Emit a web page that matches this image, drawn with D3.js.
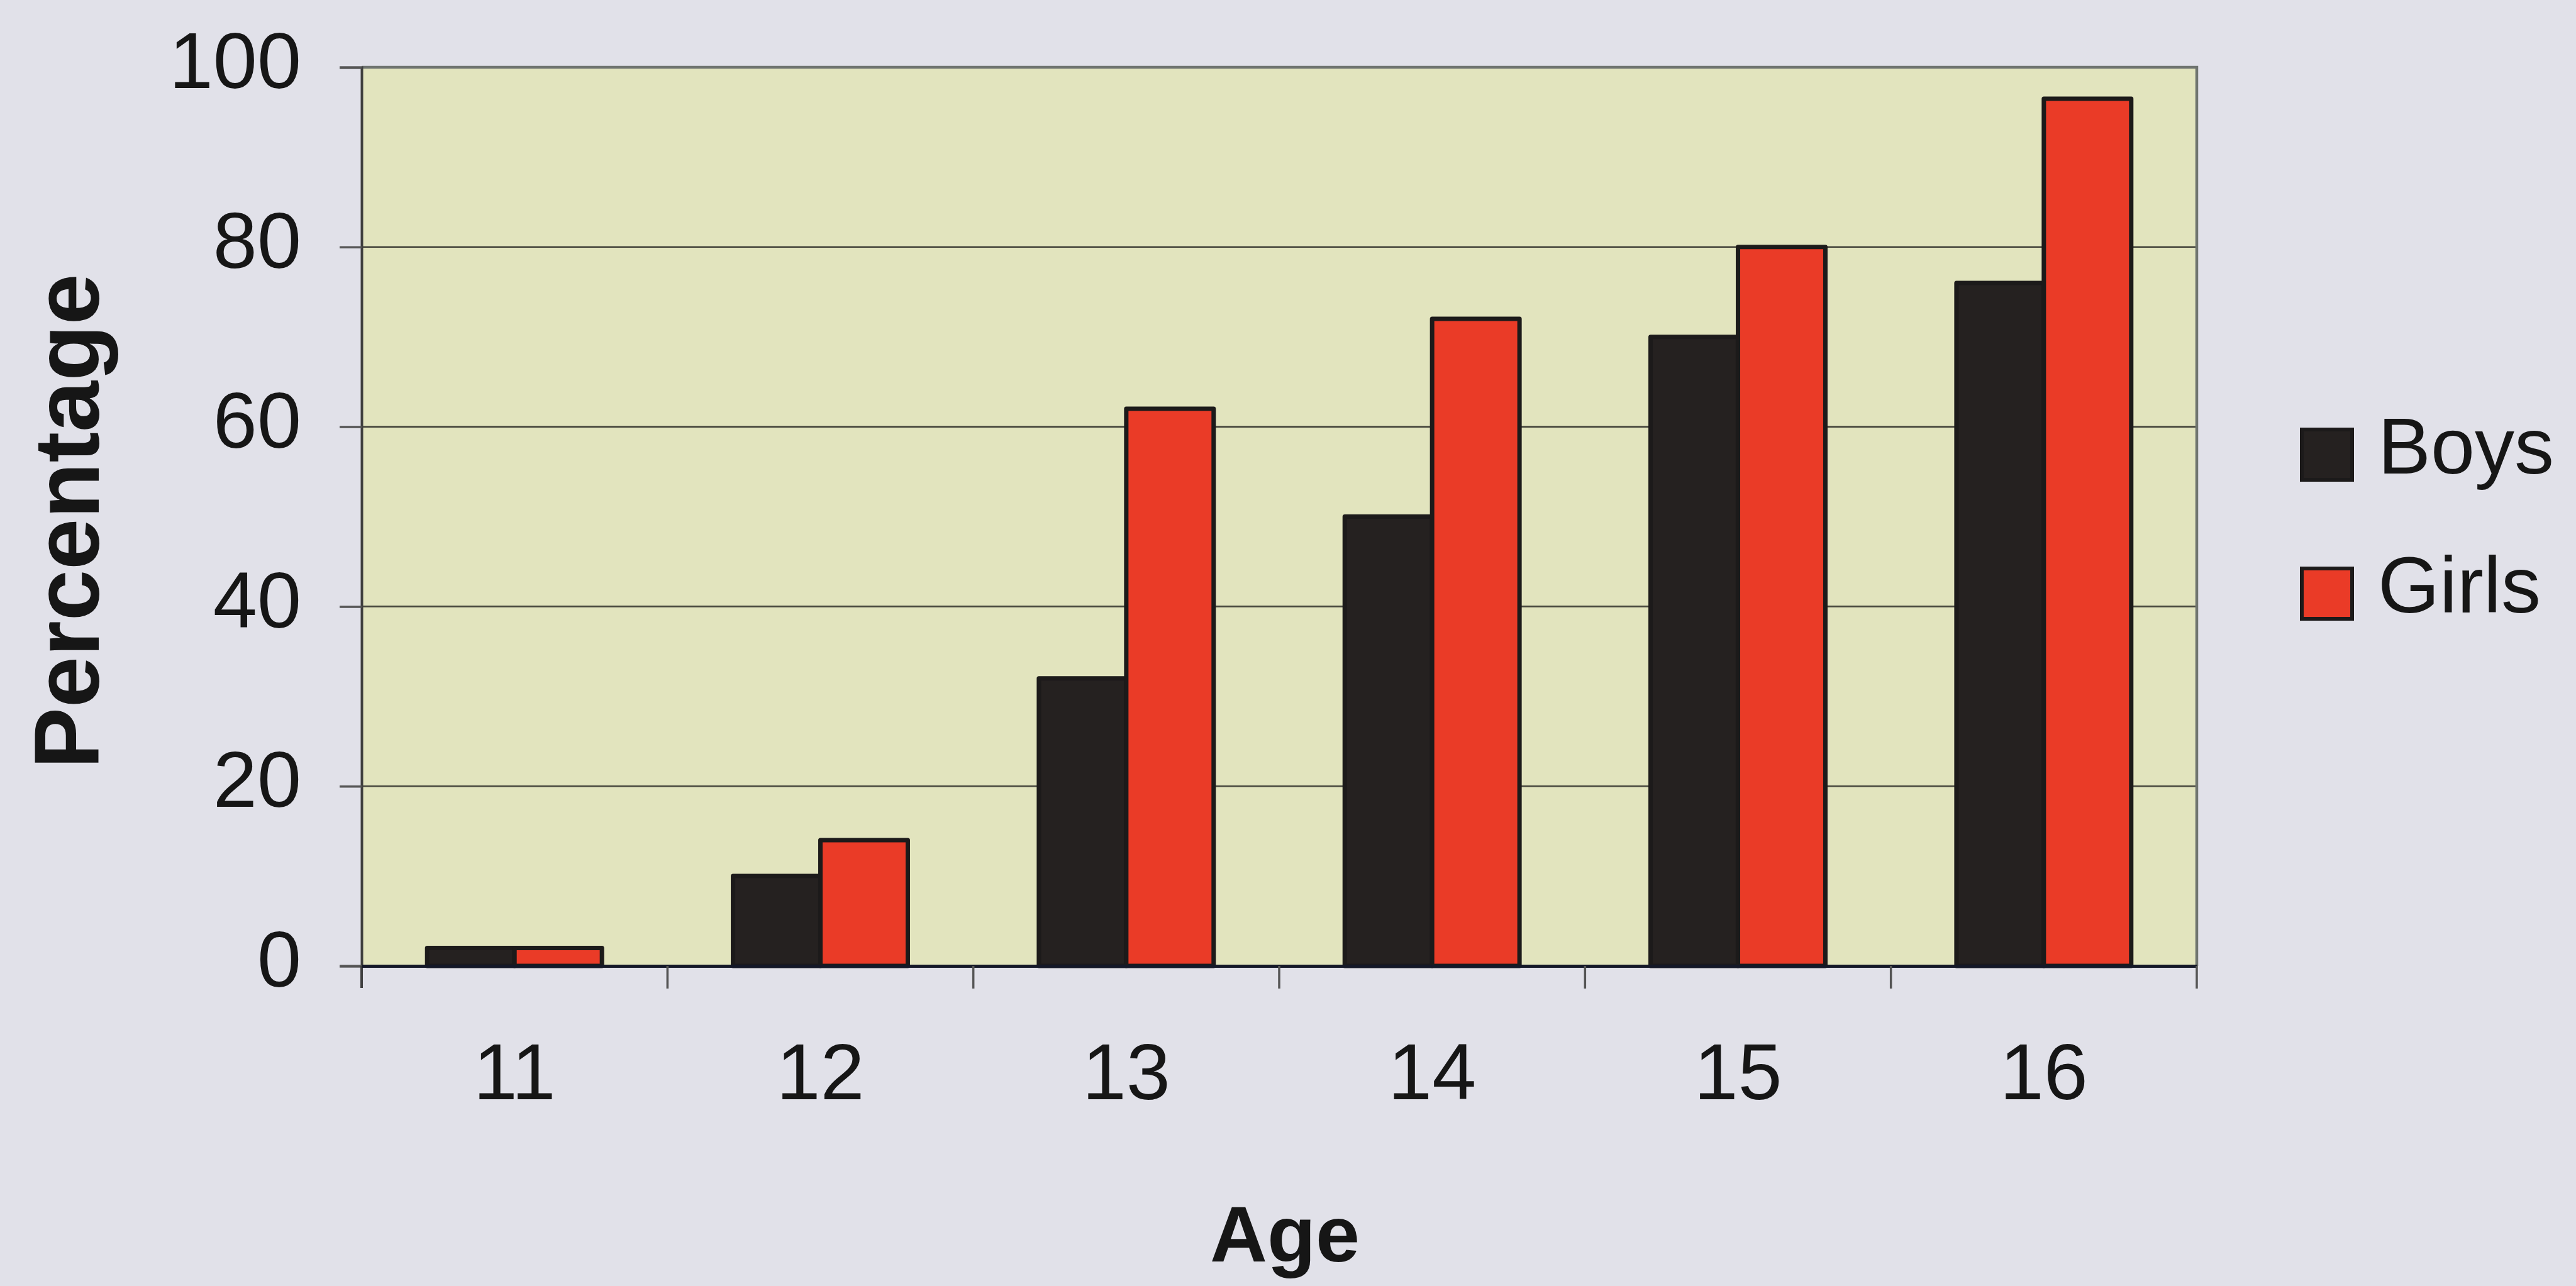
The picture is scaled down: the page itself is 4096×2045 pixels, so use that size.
<!DOCTYPE html>
<html>
<head>
<meta charset="utf-8">
<script src="https://cdn.jsdelivr.net/npm/d3@7/dist/d3.min.js"></script>
<style>
  html, body { margin: 0; padding: 0; background: #e1e1e9; }
  svg { display: block; }
  text { font-family: "Liberation Sans", Arial, sans-serif; fill: #161616; }
</style>
</head>
<body>
<svg id="chart" width="4096" height="2045"></svg>
<script>
// Share of pupils by age, boys vs girls
const ages = ["11", "12", "13", "14", "15", "16"];
const seriesNames = ["Boys", "Girls"];
const boys = [2, 10, 32, 50, 70, 76];
const girls = [2, 14, 62, 72, 80, 96.5];
const yTicks = [0, 20, 40, 60, 80, 100];
const seriesColors = ["#252120", "#ea3b27"];

const svg = d3.select("#chart");

const plot = { left: 575, right: 3493, top: 107, bottom: 1536 };

const x = d3.scaleBand().domain(ages).range([plot.left, plot.right]).padding(0);
const inner = d3.scaleBand().domain(seriesNames).range([0, x.bandwidth()])
  .paddingInner(0).paddingOuter(0.75);
const y = d3.scaleLinear().domain([0, 100]).range([plot.bottom, plot.top]);
const color = d3.scaleOrdinal().domain(seriesNames).range(seriesColors);

// plot area background
svg.append("rect")
  .attr("x", plot.left).attr("y", plot.top)
  .attr("width", plot.right - plot.left).attr("height", plot.bottom - plot.top)
  .attr("fill", "#e2e4be");

// horizontal gridlines
svg.append("g").selectAll("line")
  .data(yTicks.filter(v => v > 0 && v < 100))
  .join("line")
  .attr("x1", plot.left).attr("x2", plot.right)
  .attr("y1", d => y(d)).attr("y2", d => y(d))
  .attr("stroke", "#46463c").attr("stroke-width", 2.6);

// plot border (top and right)
svg.append("path")
  .attr("d", `M${plot.left},${y(100)}H${plot.right}V${plot.bottom}`)
  .attr("fill", "none").attr("stroke", "#6f7470").attr("stroke-width", 4.5);

// bars
const rows = ages.map((a, i) => ({ age: a, values: [
  { key: "Boys", value: boys[i] },
  { key: "Girls", value: girls[i] }
]}));

const groups = svg.append("g").selectAll("g")
  .data(rows).join("g")
  .attr("transform", d => `translate(${x(d.age)},0)`);

groups.selectAll("rect")
  .data(d => d.values).join("rect")
  .attr("x", d => inner(d.key))
  .attr("width", inner.bandwidth())
  .attr("y", d => y(d.value))
  .attr("height", d => y(0) - y(d.value))
  .attr("fill", d => color(d.key))
  .attr("stroke", "#1c1a1a").attr("stroke-width", 7)
  .attr("stroke-linejoin", "round");

// y axis
const yAxis = svg.append("g")
  .attr("transform", `translate(${plot.left},0)`)
  .call(d3.axisLeft(y).tickValues(yTicks).tickSize(35).tickPadding(61));
yAxis.select(".domain").attr("stroke", "#3f3f3f").attr("stroke-width", 4);
yAxis.selectAll(".tick line").attr("stroke", "#555").attr("stroke-width", 3.5);
yAxis.selectAll(".tick text")
  .attr("dy", "0.26em")
  .style("font-size", "126px").style("font-family", "Liberation Sans, Arial, sans-serif")
  .attr("fill", "#161616");
// extend the left axis below the baseline like the category ticks
svg.append("line")
  .attr("x1", plot.left).attr("x2", plot.left)
  .attr("y1", y(0)).attr("y2", y(0) + 35)
  .attr("stroke", "#3f3f3f").attr("stroke-width", 4);

// x axis: labels centred on categories
const xAxis = svg.append("g")
  .attr("transform", `translate(0,${plot.bottom})`)
  .call(d3.axisBottom(x).tickSize(0).tickPadding(123));
xAxis.select(".domain").attr("stroke", "#141828").attr("stroke-width", 5);
xAxis.selectAll(".tick text")
  .style("font-size", "126px").style("font-family", "Liberation Sans, Arial, sans-serif")
  .attr("fill", "#161616");

// tick marks on category boundaries
const boundaries = ages.map(a => x(a)).concat([x.range()[1]]);
svg.append("g").selectAll("line")
  .data(boundaries.slice(1)).join("line")
  .attr("x1", d => d).attr("x2", d => d)
  .attr("y1", y(0)).attr("y2", y(0) + 36)
  .attr("stroke", "#555").attr("stroke-width", 3.5);

// axis titles
svg.append("text")
  .attr("transform", `translate(157,829) rotate(-90)`)
  .attr("text-anchor", "middle")
  .style("font-size", "146px").style("font-weight", "bold")
  .text("Percentage");

svg.append("text")
  .attr("x", 2043).attr("y", 2006)
  .attr("text-anchor", "middle")
  .style("font-size", "126px").style("font-weight", "bold")
  .text("Age");

// legend
const legend = svg.append("g").selectAll("g")
  .data(seriesNames).join("g")
  .attr("transform", (d, i) => `translate(3660,${683 + i * 221})`);
legend.append("rect")
  .attr("width", 80).attr("height", 80)
  .attr("fill", d => color(d))
  .attr("stroke", "#1c1a1a").attr("stroke-width", 6);
legend.append("text")
  .attr("x", 121).attr("y", 70)
  .style("font-size", "126px")
  .text(d => d);
</script>
</body>
</html>
